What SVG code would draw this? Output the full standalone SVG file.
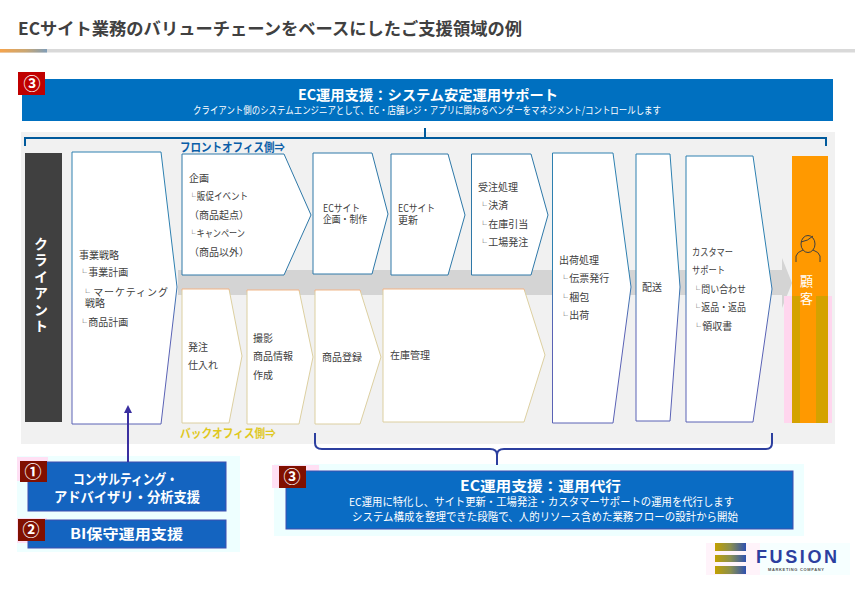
<svg xmlns="http://www.w3.org/2000/svg" width="855" height="591" viewBox="0 0 855 591">
<defs>
<linearGradient id="acc" x1="0" x2="1" y1="0" y2="0"><stop offset="0" stop-color="#f6a44c"/><stop offset="0.55" stop-color="#c9a774"/><stop offset="1" stop-color="#7f9db8"/></linearGradient>
<linearGradient id="bar" x1="0" x2="1" y1="0" y2="0"><stop offset="0" stop-color="#c2a000"/><stop offset="0.5" stop-color="#8a8f50"/><stop offset="1" stop-color="#2f50b0"/></linearGradient>
<linearGradient id="sf" x1="0" x2="0" y1="0" y2="1"><stop offset="0.45" stop-color="#2e80b0"/><stop offset="0.65" stop-color="#5a62b5"/></linearGradient>
<linearGradient id="sb" x1="0" x2="0" y1="0" y2="1"><stop offset="0" stop-color="#f4b183"/><stop offset="0.02" stop-color="#dccfa0"/></linearGradient>
</defs>
<style>
text{font-family:"Noto Sans CJK JP","Liberation Sans",sans-serif}
.t{font-size:10px;fill:#404040}
.l{font-size:8px;letter-spacing:-1px;font-weight:700}
.f{fill:#fff;stroke:#2e78a8;stroke-width:1}
.fl{fill:#fff;stroke:url(#sf);stroke-width:1}
.b{fill:#fff;stroke:url(#sb);stroke-width:1}
.blue{fill:#0070c0}
.blue2{fill:#1464c0;stroke:#3f4fb0;stroke-width:1}
.h{font-size:14px;font-weight:700;fill:#fff}
.s{font-size:10px;fill:#fff}
.num{font-size:17px;font-weight:700;fill:#fff;text-anchor:middle}
.br{fill:none;stroke:#005a9c;stroke-width:2}
.br2{fill:none;stroke:#2c3f9f;stroke-width:2}
</style>
<rect width="855" height="591" fill="#fff"/>
<g id="title">
<text x="18" y="35" font-size="17" font-weight="700" fill="#404040" textLength="504" lengthAdjust="spacingAndGlyphs">ECサイト業務のバリューチェーンをベースにしたご支援領域の例</text>
<rect x="0" y="49" width="855" height="3.5" fill="#d9d9d9"/>
<rect x="0" y="49" width="47" height="3.5" fill="url(#acc)"/>
</g>
<rect x="21" y="132" width="814" height="312" fill="#f1f1f1"/>
<path d="M178 270H782V258L792 283L782 308V295H178Z" fill="#d4d4d4"/>
<g id="top-support">
<rect class="blue" x="22" y="79" width="811" height="42"/>
<text class="h" x="298" y="100" textLength="260" lengthAdjust="spacingAndGlyphs">EC運用支援：システム安定運用サポート</text>
<text class="s" x="193" y="114" textLength="468" lengthAdjust="spacingAndGlyphs">クライアント側のシステムエンジニアとして、EC・店舗レジ・アプリに関わるベンダーをマネジメント/コントロールします</text>
<rect x="18" y="72" width="27" height="23" fill="#c00000"/>
<text class="num" x="32" y="90">③</text>
</g>
<g id="client">
<rect x="25" y="153" width="37" height="269" fill="#404040"/>
<text x="41" y="286" font-size="14" font-weight="700" fill="#fff" text-anchor="middle" letter-spacing="2.5" style="writing-mode:vertical-rl">クライアント</text>
</g>
<g id="n-strategy">
<path class="fl" d="M72 152H161L177 287L161 424H72Z"/>
<text class="t" x="79" y="259">事業戦略</text>
<text class="t" x="79" y="276"><tspan class="l">└</tspan> 事業計画</text>
<text class="t"><tspan x="82" y="296" textLength="86"><tspan class="l">└</tspan> マーケティング</tspan><tspan x="85" y="307">戦略</tspan></text>
<text class="t" x="79" y="326"><tspan class="l">└</tspan> 商品計画</text>
</g>
<text x="180" y="152" font-size="12" font-weight="700" fill="#0a5ea8" textLength="105" lengthAdjust="spacingAndGlyphs">フロントオフィス側⇒</text>
<g id="n-plan">
<path class="f" d="M182 154H284L311 215L284 275H182Z"/>
<text class="t" x="189" y="182">企画</text>
<text class="t" x="189" y="200" textLength="59" lengthAdjust="spacingAndGlyphs"><tspan class="l">└</tspan> 販促イベント</text>
<text class="t" x="189" y="219">（商品起点）</text>
<text class="t" x="189" y="237" textLength="56" lengthAdjust="spacingAndGlyphs"><tspan class="l">└</tspan> キャンペーン</text>
<text class="t" x="189" y="256">（商品以外）</text>
</g>
<g id="n-create">
<path class="f" d="M313 153H372L388 214L372 274H313Z"/>
<text class="t"><tspan x="323" y="212" textLength="37" lengthAdjust="spacingAndGlyphs">ECサイト</tspan><tspan x="323" y="223" textLength="44" lengthAdjust="spacingAndGlyphs">企画・制作</tspan></text>
</g>
<g id="n-update">
<path class="f" d="M391 154H448L465 215L448 275H391Z"/>
<text class="t"><tspan x="398" y="212" textLength="37" lengthAdjust="spacingAndGlyphs">ECサイト</tspan><tspan x="398" y="224">更新</tspan></text>
</g>
<g id="n-order">
<path class="f" d="M471.500 154H531L548 215L531 275H471.500Z"/>
<text class="t" x="478" y="191">受注処理</text>
<text class="t" x="479" y="209"><tspan class="l">└</tspan> 決済</text>
<text class="t" x="479" y="228"><tspan class="l">└</tspan> 在庫引当</text>
<text class="t" x="479" y="246"><tspan class="l">└</tspan> 工場発注</text>
</g>
<g id="n-ship">
<path class="fl" d="M552.500 153H613L631 287L613 423H552.500Z"/>
<text class="t" x="559" y="264">出荷処理</text>
<text class="t" x="560" y="282"><tspan class="l">└</tspan> 伝票発行</text>
<text class="t" x="560" y="301"><tspan class="l">└</tspan> 梱包</text>
<text class="t" x="560" y="319"><tspan class="l">└</tspan> 出荷</text>
</g>
<g id="n-deliver">
<path class="fl" d="M636 154H670L680 287L670 421H636Z"/>
<text class="t" x="642" y="291">配送</text>
</g>
<g id="n-support">
<path class="fl" d="M686 156H753L772 289L753 422H686Z"/>
<text class="t" x="692" y="256" textLength="41" lengthAdjust="spacingAndGlyphs">カスタマー</text>
<text class="t" x="692" y="274" textLength="33" lengthAdjust="spacingAndGlyphs">サポート</text>
<text class="t" x="693" y="293" textLength="53" lengthAdjust="spacingAndGlyphs"><tspan class="l">└</tspan> 問い合わせ</text>
<text class="t" x="693" y="311" textLength="53" lengthAdjust="spacingAndGlyphs"><tspan class="l">└</tspan> 返品・返品</text>
<text class="t" x="693" y="330"><tspan class="l">└</tspan> 領収書</text>
</g>
<g id="n-order2">
<path class="b" d="M182 289H229L242 356L229 423H182Z"/>
<text class="t" x="188" y="351">発注</text>
<text class="t" x="188" y="369">仕入れ</text>
</g>
<g id="n-photo">
<path class="b" d="M247 290H299L313 357L299 424H247Z"/>
<text class="t" x="253" y="342">撮影</text>
<text class="t" x="253" y="360">商品情報</text>
<text class="t" x="253" y="379">作成</text>
</g>
<g id="n-register">
<path class="b" d="M315 290H360L381 357L360 424H315Z"/>
<text class="t" x="322" y="361">商品登録</text>
</g>
<g id="n-stock">
<path class="b" d="M383 289H524L545 355L524 422H383Z"/>
<text class="t" x="390" y="359">在庫管理</text>
</g>
<text x="180" y="438" font-size="12" font-weight="700" fill="#dfc81e" textLength="96" lengthAdjust="spacingAndGlyphs">バックオフィス側⇒</text>
<g id="customer">
<rect x="784" y="296" width="48" height="127" fill="#ffd6ee"/>
<rect x="792" y="156" width="36" height="267" fill="#ff9900"/>
<path d="M792 296H800V423H792ZM816 296H828V423H816Z" fill="#d4a200"/>
<g fill="none" stroke="#404040" stroke-width="1"><ellipse cx="808" cy="244" rx="7" ry="8.500"/><path d="M796 262V256Q797 252 803 250M820 262V256Q819 252 813 250M801 242Q808 241 813 236"/></g>
<text x="806.500" y="286" font-size="13" fill="#fff" text-anchor="middle">顧</text>
<text x="806.500" y="303" font-size="13" fill="#fff" text-anchor="middle">客</text>
</g>
<g id="s1">
<rect x="17" y="456" width="223" height="96" fill="#eeffff"/>
<rect x="17" y="457" width="31" height="24" fill="#ffe0f4"/>
<rect class="blue2" x="28" y="462" width="198" height="49"/>
<text class="h" x="73" y="484" textLength="105" lengthAdjust="spacingAndGlyphs">コンサルティング・</text>
<text class="h" x="54" y="502" textLength="146" lengthAdjust="spacingAndGlyphs">アドバイザリ・分析支援</text>
<rect x="20" y="461" width="27" height="21" fill="#801000"/>
<text class="num" x="33" y="478">①</text>
</g>
<g id="s2">
<rect x="17" y="518" width="30" height="25" fill="#ffe0f4"/>
<rect class="blue2" x="28" y="520" width="198" height="28"/>
<text class="h" x="70" y="539" textLength="113" lengthAdjust="spacingAndGlyphs">BI保守運用支援</text>
<rect x="18" y="519" width="27" height="22" fill="#801000"/>
<text class="num" x="31" y="536">②</text>
</g>
<g id="s3">
<rect x="274" y="464" width="530" height="72" fill="#eeffff"/>
<rect x="272" y="465" width="47" height="23" fill="#ffe0f4"/>
<rect class="blue2" x="286" y="471" width="507" height="58" style="fill:#0a6cc4"/>
<text class="h" x="460" y="491" textLength="161" lengthAdjust="spacingAndGlyphs">EC運用支援：運用代行</text>
<text class="s" x="349" y="506" style="font-size:11px" textLength="385" lengthAdjust="spacingAndGlyphs">EC運用に特化し、サイト更新・工場発注・カスタマーサポートの運用を代行します</text>
<text class="s" x="352" y="521" style="font-size:11px" textLength="386" lengthAdjust="spacingAndGlyphs">システム構成を整理できた段階で、人的リソース含めた業務フローの設計から開始</text>
<rect x="279" y="466" width="27" height="22" fill="#801000"/>
<text class="num" x="292" y="483">③</text>
</g>
<g id="connectors">
<path class="br" d="M25 146V138H826V146M425 138V128"/>
<path class="br2" d="M315 433V443Q315 449 322 449H490Q497 449 497 455V465M497 455Q497 449 504 449H766Q772 449 772 443V433"/>
<path d="M128 462V412" fill="none" stroke="#3a2fa0" stroke-width="2"/>
<path d="M128 405L132 413H124Z" fill="#3a2fa0"/>
</g>
<g id="logo">
<rect x="706" y="543" width="54" height="32" fill="#fff3fa"/>
<rect x="760" y="543" width="90" height="32" fill="#f6ffff"/>
<rect x="715" y="543" width="31" height="8" fill="url(#bar)"/>
<rect x="715" y="555" width="31" height="7" fill="url(#bar)"/>
<rect x="715" y="566" width="31" height="8" fill="url(#bar)"/>
<text x="756" y="563" font-size="18" font-weight="700" fill="#2c3f9f" textLength="81" style="font-family:'Liberation Sans',sans-serif">FUSION</text>
<text x="768" y="570.500" font-size="4" font-weight="700" fill="#555" textLength="56" style="font-family:'Liberation Sans',sans-serif">MARKETING COMPANY</text>
</g>
</svg>
